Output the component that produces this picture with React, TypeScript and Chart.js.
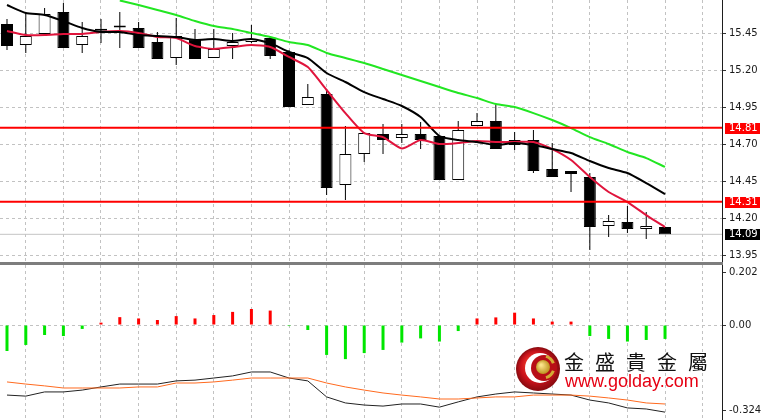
import React, { useEffect, useRef } from 'react';
import { Chart, registerables } from 'chart.js';

Chart.register(...registerables);

// ---- data ----
const candleIdx = [0, 1, 2, 3, 4, 5, 6, 7, 8, 9, 10, 11, 12, 13, 14, 15, 16, 17, 18, 19, 20, 21, 22, 23, 24, 25, 26, 27, 28, 29, 30, 31, 32, 33, 34, 35];
const openP = [15.511, 15.369, 15.443, 15.592, 15.369, 15.472, 15.494, 15.484, 15.389, 15.281, 15.409, 15.281, 15.362, 15.389, 15.416, 15.322, 14.964, 15.038, 14.423, 14.632, 14.768, 14.741, 14.768, 14.754, 14.457, 14.822, 14.855, 14.693, 14.727, 14.531, 14.518, 14.477, 14.146, 14.173, 14.126, 14.139];
const highP = [15.545, 15.585, 15.619, 15.653, 15.524, 15.545, 15.592, 15.524, 15.457, 15.551, 15.477, 15.477, 15.450, 15.504, 15.423, 15.335, 15.105, 15.072, 14.822, 14.774, 14.835, 14.835, 14.849, 14.754, 14.855, 14.909, 14.970, 14.781, 14.795, 14.707, 14.518, 14.504, 14.220, 14.281, 14.241, 14.139];
const lowP = [15.335, 15.315, 15.436, 15.349, 15.315, 15.382, 15.349, 15.349, 15.274, 15.234, 15.274, 15.281, 15.274, 15.382, 15.274, 14.950, 14.964, 14.355, 14.322, 14.578, 14.632, 14.707, 14.666, 14.457, 14.457, 14.822, 14.666, 14.659, 14.504, 14.477, 14.376, 13.984, 14.072, 14.099, 14.058, 14.099];
const closeP = [15.362, 15.430, 15.578, 15.349, 15.430, 15.466, 15.488, 15.349, 15.274, 15.430, 15.274, 15.342, 15.389, 15.409, 15.295, 14.950, 15.018, 14.403, 14.632, 14.774, 14.727, 14.768, 14.727, 14.457, 14.795, 14.855, 14.666, 14.727, 14.518, 14.477, 14.497, 14.139, 14.180, 14.126, 14.146, 14.090];
const maFast = [15.464, 15.436, 15.436, 15.443, 15.443, 15.457, 15.464, 15.450, 15.423, 15.416, 15.362, 15.342, 15.355, 15.369, 15.355, 15.288, 15.220, 15.065, 14.909, 14.774, 14.747, 14.670, 14.727, 14.700, 14.707, 14.720, 14.714, 14.714, 14.714, 14.666, 14.592, 14.477, 14.376, 14.308, 14.220, 14.139];
const maMid = [15.639, 15.585, 15.572, 15.531, 15.484, 15.457, 15.457, 15.436, 15.430, 15.423, 15.403, 15.409, 15.396, 15.409, 15.382, 15.322, 15.281, 15.180, 15.119, 15.051, 15.004, 14.957, 14.882, 14.754, 14.727, 14.714, 14.693, 14.707, 14.693, 14.666, 14.639, 14.585, 14.538, 14.504, 14.436, 14.362];
const maSlow = [null, null, null, null, null, null, 15.670, 15.639, 15.605, 15.572, 15.531, 15.497, 15.477, 15.450, 15.423, 15.389, 15.369, 15.315, 15.281, 15.247, 15.207, 15.166, 15.126, 15.085, 15.045, 15.011, 14.970, 14.950, 14.909, 14.862, 14.808, 14.747, 14.700, 14.646, 14.605, 14.545];
const priceTicks = [13.95, 14.2, 14.45, 14.7, 14.95, 15.2, 15.45];
const levelValues = [14.81, 14.31];
const lastPrice = 14.09;
const macdHist = [-0.099, -0.076, -0.038, -0.042, -0.015, 0.009, 0.030, 0.025, 0.019, 0.034, 0.025, 0.038, 0.050, 0.061, 0.055, -0.004, -0.019, -0.114, -0.130, -0.107, -0.095, -0.067, -0.051, -0.063, -0.023, 0.025, 0.029, 0.047, 0.025, 0.013, 0.013, -0.042, -0.053, -0.063, -0.057, -0.053];
const macdLine = [-0.267, -0.271, -0.255, -0.255, -0.248, -0.236, -0.225, -0.225, -0.225, -0.213, -0.210, -0.202, -0.194, -0.179, -0.179, -0.202, -0.213, -0.274, -0.297, -0.305, -0.309, -0.301, -0.301, -0.313, -0.293, -0.274, -0.263, -0.255, -0.259, -0.263, -0.267, -0.286, -0.297, -0.316, -0.320, -0.332];
const macdSignal = [-0.217, -0.225, -0.232, -0.240, -0.240, -0.240, -0.240, -0.236, -0.236, -0.221, -0.221, -0.217, -0.210, -0.202, -0.202, -0.202, -0.202, -0.221, -0.236, -0.248, -0.259, -0.267, -0.274, -0.282, -0.282, -0.278, -0.274, -0.274, -0.267, -0.267, -0.267, -0.271, -0.278, -0.286, -0.297, -0.301];
const macdTicks = [-0.324, 0, 0.202];
const macdTickLabels = ['-0.324', '0.00', '0.202'];
const gridIdx = [1, 3, 5, 7, 9, 11, 13, 15, 17, 19, 21, 23, 25, 27, 29, 31, 33, 35, 37];
const brandName = '金盛貴金屬';
const brandUrl = 'www.golday.com';

// ---- layout / style ----
const X_MIN = -0.372;
const X_MAX = 38.03;
const P_MIN = 13.903;
const P_MAX = 15.673;
const M_MIN = -0.362;
const M_MAX = 0.2287;
const GRID = '#c2c2c2';
const TXT = '#1a1a1a';
const FONT = 'DejaVu Sans';

function xScale(): any {
  return {
    type: 'linear',
    min: X_MIN,
    max: X_MAX,
    offset: false,
    ticks: { display: false },
    grid: { color: GRID, drawTicks: false, lineWidth: 1, offset: false },
    border: { display: false, dash: [3, 3] },
    afterBuildTicks: (s: any) => {
      s.ticks = gridIdx.map((v) => ({ value: v }));
    },
    afterFit: (s: any) => {
      s.height = 0;
      s.paddingLeft = 0;
      s.paddingRight = 0;
      s.paddingTop = 0;
      s.paddingBottom = 0;
    },
  };
}

function yAxisBase(): any {
  return {
    position: 'right',
    border: { display: true, color: '#1e1e1e', width: 1, dash: [3, 3] },
    afterFit: (s: any) => {
      s.width = 42;
      s.paddingTop = 0;
      s.paddingBottom = 0;
    },
  };
}

const levelLabelPlugin = {
  id: 'levelLabels',
  afterDraw(chart: any) {
    const y = chart.scales.y;
    const ctx = chart.ctx;
    const items = [
      ...levelValues.map((v) => ({ v, bg: '#ff0000' })),
      { v: lastPrice, bg: '#000000' },
    ];
    ctx.save();
    ctx.font = `10px "${FONT}"`;
    ctx.textBaseline = 'middle';
    ctx.textAlign = 'left';
    for (const it of items) {
      const py = Math.round(y.getPixelForValue(it.v));
      ctx.fillStyle = it.bg;
      ctx.fillRect(y.left + 3, py - 5, 35, 11);
      ctx.fillStyle = '#ffffff';
      ctx.fillText(it.v.toFixed(2), y.left + 7, py + 0.5);
    }
    ctx.restore();
  },
};

const logoPlugin = {
  id: 'logo',
  afterDraw(chart: any) {
    const ctx = chart.ctx;
    const cx = 538;
    const cy = 104;
    const r = 22;
    ctx.save();
    const g = ctx.createRadialGradient(cx - 7, cy - 7, 2, cx, cy, r);
    g.addColorStop(0, '#f5402e');
    g.addColorStop(0.65, '#c9121b');
    g.addColorStop(1, '#870a0f');
    ctx.fillStyle = g;
    ctx.beginPath();
    ctx.arc(cx, cy, r, 0, Math.PI * 2);
    ctx.fill();
    ctx.fillStyle = '#ffffff';
    ctx.beginPath();
    ctx.arc(cx + 2, cy - 1, 15, 0, Math.PI * 2);
    ctx.fill();
    ctx.fillStyle = '#b80e16';
    ctx.beginPath();
    ctx.arc(cx + 6, cy - 1, 13, 0, Math.PI * 2);
    ctx.fill();
    const gg = ctx.createRadialGradient(cx + 3, cy - 4, 1, cx + 5, cy - 2, 8);
    gg.addColorStop(0, '#fbe38a');
    gg.addColorStop(1, '#b68a12');
    ctx.fillStyle = gg;
    ctx.beginPath();
    ctx.arc(cx + 5, cy - 2, 7, 0, Math.PI * 2);
    ctx.fill();
    ctx.strokeStyle = '#d3aa35';
    ctx.lineWidth = 3;
    ctx.beginPath();
    ctx.arc(cx + 5, cy - 2, 11, -1.3, -0.35);
    ctx.stroke();
    ctx.beginPath();
    ctx.arc(cx + 5, cy - 2, 11, 0.35, 1.3);
    ctx.stroke();

    ctx.fillStyle = '#111111';
    ctx.font = '20px "Noto Sans CJK TC"';
    ctx.textBaseline = 'middle';
    ctx.textAlign = 'left';
    const chars = Array.from(brandName);
    chars.forEach((ch, k) => ctx.fillText(ch, 564 + k * 31, 97));
    ctx.fillStyle = '#e60012';
    ctx.font = '18px "Liberation Sans"';
    ctx.textBaseline = 'alphabetic';
    ctx.fillText(brandUrl, 565, 122);
    ctx.restore();
  },
};

function topConfig(): any {
  const bodies = candleIdx.map((i) => ({ x: i, y: [openP[i], closeP[i]] }));
  const wicks = candleIdx.map((i) => ({ x: i, y: [lowP[i], highP[i]] }));
  const line = (arr: (number | null)[]) =>
    candleIdx.filter((i) => arr[i] !== null).map((i) => ({ x: i, y: arr[i] as number }));
  const level = (v: number) => [
    { x: X_MIN, y: v },
    { x: X_MAX, y: v },
  ];
  return {
    type: 'bar',
    data: {
      datasets: [
        ...levelValues.map((v) => ({
          type: 'line',
          data: level(v),
          borderColor: '#ff0000',
          borderWidth: 2,
          pointRadius: 0,
          order: 0,
        })),
        { type: 'line', data: line(maSlow), borderColor: '#22e622', borderWidth: 2, pointRadius: 0, tension: 0.2, order: 1 },
        { type: 'line', data: line(maMid), borderColor: '#000000', borderWidth: 2, pointRadius: 0, tension: 0.2, order: 1 },
        { type: 'line', data: line(maFast), borderColor: '#e0143c', borderWidth: 2, pointRadius: 0, tension: 0.2, order: 1 },
        {
          type: 'bar',
          data: bodies,
          backgroundColor: (c: any) => (closeP[c.dataIndex] > openP[c.dataIndex] ? '#ffffff' : '#000000'),
          borderColor: '#000000',
          borderWidth: 1,
          borderSkipped: false,
          maxBarThickness: 12,
          minBarLength: 2,
          grouped: false,
          inflateAmount: 0,
          order: 2,
        },
        {
          type: 'bar',
          data: wicks,
          backgroundColor: '#000000',
          borderWidth: 0,
          maxBarThickness: 1,
          grouped: false,
          inflateAmount: 0,
          order: 3,
        },
        {
          type: 'line',
          data: level(lastPrice),
          borderColor: '#c4c4c4',
          borderWidth: 1,
          pointRadius: 0,
          order: 4,
        },
      ],
    },
    options: {
      responsive: false,
      animation: false,
      devicePixelRatio: 1,
      events: [],
      layout: { padding: 0 },
      plugins: { legend: { display: false }, tooltip: { enabled: false } },
      scales: {
        x: xScale(),
        y: {
          ...yAxisBase(),
          type: 'linear',
          min: P_MIN,
          max: P_MAX,
          afterBuildTicks: (s: any) => {
            s.ticks = priceTicks.map((v) => ({ value: v }));
          },
          ticks: {
            callback: (v: any) => Number(v).toFixed(2),
            color: TXT,
            font: { family: FONT, size: 10 },
            padding: 3,
          },
          grid: { color: GRID, tickColor: '#333333', tickLength: 4, tickWidth: 1, lineWidth: 1 },
        },
      },
    },
    plugins: [levelLabelPlugin],
  };
}

function bottomConfig(): any {
  const line = (arr: number[]) => candleIdx.map((i) => ({ x: i, y: arr[i] }));
  return {
    type: 'bar',
    data: {
      datasets: [
        { type: 'line', data: line(macdSignal), borderColor: '#ff6a1f', borderWidth: 1, pointRadius: 0, order: 0 },
        { type: 'line', data: line(macdLine), borderColor: '#222222', borderWidth: 1, pointRadius: 0, order: 1 },
        {
          type: 'bar',
          data: line(macdHist),
          backgroundColor: (c: any) => (macdHist[c.dataIndex] >= 0 ? '#ff0000' : '#00e600'),
          borderWidth: 0,
          maxBarThickness: 3,
          minBarLength: 1,
          grouped: false,
          inflateAmount: 0,
          order: 2,
        },
      ],
    },
    options: {
      responsive: false,
      animation: false,
      devicePixelRatio: 1,
      events: [],
      layout: { padding: 0 },
      plugins: { legend: { display: false }, tooltip: { enabled: false } },
      scales: {
        x: xScale(),
        y: {
          ...yAxisBase(),
          type: 'linear',
          min: M_MIN,
          max: M_MAX,
          afterBuildTicks: (s: any) => {
            s.ticks = macdTicks.map((v) => ({ value: v }));
          },
          ticks: {
            callback: (_v: any, i: number) => macdTickLabels[i],
            color: TXT,
            font: { family: FONT, size: 10 },
            padding: 3,
          },
          grid: {
            color: (c: any) => (c.tick && c.tick.value === 0 ? GRID : 'rgba(0,0,0,0)'),
            tickColor: '#333333',
            tickLength: 4,
            tickWidth: 1,
          },
        },
      },
    },
    plugins: [logoPlugin],
  };
}

export default function App() {
  const topRef = useRef<HTMLCanvasElement>(null);
  const botRef = useRef<HTMLCanvasElement>(null);
  useEffect(() => {
    const c1 = new Chart(topRef.current as HTMLCanvasElement, topConfig());
    const c2 = new Chart(botRef.current as HTMLCanvasElement, bottomConfig());
    return () => {
      c1.destroy();
      c2.destroy();
    };
  }, []);
  return (
    <div style={{ position: 'absolute', left: 0, top: 0, width: 764, height: 420, background: '#ffffff', overflow: 'hidden' }}>
      <canvas ref={topRef} width={764} height={262} style={{ position: 'absolute', left: 0, top: 0 }} />
      <div style={{ position: 'absolute', left: 0, top: 262, width: 723, height: 3, background: '#7d7d7d' }} />
      <canvas ref={botRef} width={764} height={155} style={{ position: 'absolute', left: 0, top: 265 }} />
    </div>
  );
}
